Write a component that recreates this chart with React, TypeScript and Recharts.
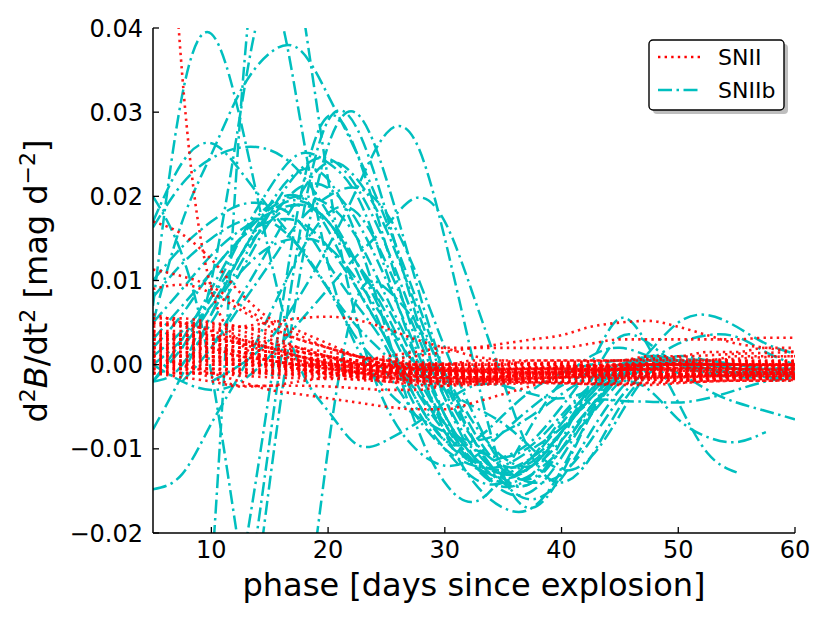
import React from 'react';
import { LineChart, Line, XAxis, YAxis } from 'recharts';

// phase grid [days since explosion]
const phase = [5, 7.5, 10, 12.5, 15, 17.5, 20, 22.5, 25, 27.5, 30, 32.5, 35, 37.5, 40, 42.5, 45, 47.5, 50, 52.5, 55, 57.5, 60];

// d2B/dt2 in units of 1e-3 mag d^-2 (SNIIb)
const b01 = [7, 32, 39.3, 29, 13, 0, -5.5, -9.5, -9, -7, -4.5, -2.5, -2.5, -3.5, -4, -3, -1.5, -0.5, 0, -0.5, -1, -1, -1];
const b02 = [-14.8, -13, -7, -1, 6, 13, 18, 18, 12, 4, -4, -10, -13, -12, -8, -3.5, -0.5, 0.5, 0.5, 0, -0.5, -1, -1];
const b03 = [-7.7, -1.2, 6, 13, 18, 19.5, 17, 12, 6, -1, -7, -11.5, -13.5, -12, -8, -4, -1, 0.5, 0, -1, -1.5, -1.5, -1.5];
const b04 = [16.3, 21.5, 24.5, 25.8, 25.5, 23, 18, 12, 5, -2, -8, -12, -13, -11, -7, -3, -0.5, 0.5, 0.5, 0, -0.5, -1, -1];
const b05 = [17, 24, 26.3, 23, 18.5, 14, 9, 4.5, 1, -3, -7, -10, -11, -9.5, -6, -2.5, -0.5, 0.5, 0, 0, -0.5, -0.5, -0.5];
const b06 = [5, 17, 25, 32.5, 37, 37.5, 32, 25, 17, 8, -1, -8, -12.5, -13.5, -10, -5, -1, 1, 0.5, 0, -0.5, -1, -1];
const b07 = [-90, -60, -25, 30, 56, 45, 22, 5, -5, -10, -12, -11, -8, -5, -2.5, -1, 0, 0.5, 0, -0.5, -1, -1, -1];
const b08 = [20, 13, -1, -23, -40, -35, -10, 8, 9, 5, -1, -7, -11, -12, -9, -5, -1.5, 0, 0, -0.5, -1, -1, -1.5];
const b09 = [-60, -50, -42, -25, -3, 19, 29.5, 25, 14, 3, -6, -12, -14.5, -13, -8, -3, 0, 0.5, 0, -0.5, -1, -1, -1];
const b10 = [-65, -58, -50, -33, -9, 15, 29, 28, 18, 6, -4, -11, -15, -15, -11, -5.5, -1.5, 0.5, 0.5, 0, -0.5, -1, -1];
const b11 = [-70, -65, -57, -40, -14, 10, 26, 29.8, 22, 10, -1, -9, -14, -16, -13.5, -8, -3, 0, 0.5, 0, -0.5, -1, -1];
const b12 = [-2, 0, 10, 30, 44, 30, 12, 2, -3, -6, -8, -9, -8, -6, -3.5, -1.5, -0.5, 0.5, 0, -0.5, -1, -1, -1];
const b13 = [null, null, 6, 12, 18, 23, 24.5, 21, 14, 5, -3, -9, -12, -11.5, -8, -4, -1, 0.5, 0, 0, -0.5, -1, -1];
const b14 = [null, null, -2, 0, 3, 8, 14, 21, 27.5, 26.5, 15, 0, -13, -17, -13, -6, -1, 1, 0.5, 0, -0.5, -1, -1];
const b15 = [0, -2, -3, -2, 1, 5, 9, 13, 16.5, 19.8, 17, 8, -2, -11, -14, -11, -5, -1, 0.5, 0.5, 0, -0.5, -1];
const b16 = [2, 6, 11, 15, 18.5, 20, 19, 15, 8, 1, -6, -11, -13, -12, -8, -3.5, -0.5, 1, 0.5, 0, -0.5, -0.5, -0.5];
const b17 = [null, -2, 2, 7, 12, 17, 20, 21, 18, 11, 2, -6, -12, -14, -13, -9, -4, -0.5, 1, 0.5, 0, -0.5, -1];
const b18 = [5, 9, 13, 16, 18, 19, 17, 11, 3, -4, -9, -9, -6, -3, -1, 0, 0.5, 0.5, 0, 0, -0.5, -0.5, -0.5];
const b19 = [-2, 2, 7, 13, 19, 23, 22, 15, 4, -7, -14, -16.3, -13, -7, -2, 1, 2, 1, 0, -0.5, -1, -1, -1];
const b20 = [-2, 3, 9, 15, 19, 20, 16, 9, 3, -4, -9, -11.5, -11, -9, -5, 0, 5.5, 2, -4.5, -10.5, -12.8, null, null];
const b21 = [3, 7, 11, 15, 17, 17, 14, 9, 3, -3, -8, -11.5, -12.5, -11, -8, -4, -2, -3, -6.5, -8.6, -9.2, -8, null];
const b22 = [null, null, 2, 8, 14, 20, 24, 22, 16, 7, -2, -9, -13.5, -14, -9, -2, 3.3, 2.5, 0, -1, -1, -1, -1];
const b23 = [1, 4, 8, 13, 17, 19, 17, 12, 7, 0, -7, -12, -14, -13, -10, -6, -2, 1.5, 5, 5.9, 4.5, 2.5, 1.3];
const b24 = [null, 0, 5, 11, 17, 21, 21, 17, 10, 2, -6, -11, -14, -14, -10, -5, -1.5, 0.5, 2.5, 3.5, 3.3, 1.5, 0];
const b25 = [8, 12, 15, 17, 17, 14, 9, 3, -1, -6, -10, -12, -12, -10, -7.5, -4.5, -4.3, -4.4, -4.5, -4, -3, -2, -1.5];
const b26 = [10, 14, 17, 19, 19, 17, 12, 7, 2, -5, -10, -13.5, -14, -11, -6.5, -2.5, 0, 0, -1, -3, -4.5, -5.5, -6.5];
const b27 = [null, 2, 8, 15, 21, 25, 24, 20, 11, 1, -8, -14, -17, -17, -12.5, -6, -1.5, 0.5, 0.5, 0, -0.5, -1, -1];
const b28 = [0, 3, 7, 11, 14, 15, 14, 10, 5, 0, -3, -5, -7, -10, -12.5, -11, -6, -1, 0, -0.5, -1, -1.5, -2];

// d2B/dt2 in units of 1e-3 mag d^-2 (SNII)
const r01 = [95, 34.5, 9, 2.5, 0.5, -0.5, -1, -1, -1, -1, -1, -1, -1, -1, -1, -1, -0.5, -0.5, -0.5, -0.5, -0.5, -0.5, -0.5];
const r02 = [17, 15.5, 12.5, 8.5, 5.5, 4, 2.5, 1, 0, -0.5, -1, -1, -1, -1, -1, -0.5, -0.5, -0.5, 0, 0, 0, 0, 0];
const r03 = [11.3, 10.5, 9.3, 7, 5, 3.5, 2, 1, 0, -0.5, -1, -1, -1, -1, -1, -0.5, -0.5, 0, 0, 0, 0, 0, 0];
const r04 = [9, 9.5, 8.5, 6.5, 4.5, 3, 2, 1, 0.5, 0, -0.5, -0.5, -0.5, -0.5, -0.5, -0.5, 0, 0, 0, 0, 0, 0, 0];
const r05 = [5, 5, 4.8, 4.5, 3.5, 2, 1, 0, -0.5, -1, -1, -1.5, -1.5, -1.5, -1, -1, -1, -0.5, -0.5, -0.5, -0.5, -0.5, -0.5];
const r06 = [3, 3.5, 4, 4.5, 5, 5.5, 5.7, 5.3, 4.3, 3, 2, 1, 0.5, 0, 0, 0, 0, 0, 0, 0, 0, 0, 0];
const r07 = [2, 2, 1.5, 1, 0.5, 0, 0, 0, 0.5, 1, 1.5, 2, 2.5, 3, 3.5, 4.5, 5, 5.2, 4.5, 3.5, 2.5, 2, 1.5];
const r08 = [3, 3, 2.5, 2, 1.5, 1, 0.5, 0.5, 1, 1.5, 2, 2, 2, 2, 2, 2.5, 3, 3, 3, 3, 3, 3.2, 3.2];
const r09 = [0, -0.5, -1.5, -2.5, -2.5, -2.5, -2.6, -2.8, -3, -3, -2.5, -2, -1.5, -1, -1, -0.5, -0.5, 0, 0, 0, 0, 0, 0];
const r10 = [1, 0, -1, -2, -3, -3.5, -4, -4.5, -5, -5.3, -5.3, -4.5, -3.5, -2.5, -1.5, -1, -0.5, 0, 0, 0, 0, 0, 0];
const r11 = [3.5, 3.5, 3, 2.5, 2, 1.5, 1, 0.5, 0, -0.4, -0.7, -0.9, -1.0, -1.0, -0.9, -0.8, -0.8, -0.9, -1.0, -1.1, -1.0, -0.9, -0.8];
const r12 = [2.5, 2.5, 2.5, 2, 1.5, 1, 0.5, 0, -0.5, -1.0, -1.4, -1.7, -1.8, -1.7, -1.5, -1.3, -1.2, -1.2, -1.3, -1.3, -1.2, -1.1, -1.0];
const r13 = [0.5, 0.5, 0.5, 0.5, 0, -0.2, -0.5, -0.7, -0.9, -1.1, -1.2, -1.3, -1.3, -1.2, -1.1, -1.0, -1.0, -1.1, -1.2, -1.3, -1.3, -1.2, -1.2];
const r14 = [-0.5, -0.5, -0.5, -0.6, -0.8, -1.0, -1.2, -1.4, -1.6, -1.8, -1.9, -1.9, -1.8, -1.7, -1.6, -1.6, -1.5, -1.4, -1.3, -1.3, -1.4, -1.5, -1.5];
const r15 = [-1, -1, -1, -1, -1.1, -1.3, -1.5, -1.8, -2.0, -2.2, -2.3, -2.3, -2.2, -2.1, -2.0, -2.0, -1.9, -1.8, -1.8, -1.8, -1.7, -1.7, -1.6];
const r16 = [4.5, 4.8, 4.5, 4, 3, 2, 1, 0.2, -0.3, -0.6, -0.7, -0.7, -0.6, -0.5, -0.5, -0.6, -0.6, -0.5, -0.4, -0.4, -0.5, -0.6, -0.6];
const r17 = [3, 3, 2.5, 1.5, 0.5, 0, -0.5, -0.9, -1.2, -1.4, -1.5, -1.5, -1.4, -1.3, -1.2, -1.2, -1.3, -1.4, -1.4, -1.3, -1.2, -1.1, -1.1];
const r18 = [1.5, 1.5, 1, 0.5, 0, -0.3, -0.4, -0.5, -0.6, -0.8, -0.9, -0.9, -0.8, -0.6, -0.5, -0.4, -0.4, -0.5, -0.7, -0.9, -1.0, -1.0, -0.9];
const r19 = [0, 0, 0, 0, 0, -0.1, -0.2, -0.2, -0.2, -0.3, -0.4, -0.5, -0.5, -0.4, -0.3, -0.2, -0.1, 0, 0.1, 0.1, 0, -0.1, -0.1];
const r20 = [2, 2, 2, 1.5, 1, 0.5, 0.1, -0.1, -0.3, -0.5, -0.7, -0.9, -1.0, -1.0, -0.9, -0.7, -0.4, -0.1, 0.2, 0.4, 0.4, 0.3, 0.3];
const r21 = [-1, -1.5, -2, -2.6, -2.5, -2, -1.5, -1, -1, -1, -1, -1.5, -1.5, -1.5, -1.5, -1, -1, -1, -1, -1, -1, -1, -1];
const r22 = [5.5, 5.5, 5, 4.5, 4, 3, 2, 1, 0.5, 0, 0, 0, 0, 0.5, 0.5, 0.5, 0.5, 0.5, 0.5, 0.5, 1, 1, 1];
const r23 = [1, 1, 0.5, 0, -0.3, -0.7, -1.1, -1.5, -1.8, -2.0, -2.1, -2.1, -2.0, -2.0, -2.1, -2.2, -2.2, -2.1, -1.9, -1.7, -1.6, -1.6, -1.6];
const r24 = [3.5, 3, 2, 1, 0.5, 0, 0, 0, 0, 0, 0, 0.5, 0.5, 0.5, 0.5, 0.5, 0.5, 1, 1, 1.5, 1.5, 2, 2];
const r25 = [-0.5, 0, 0.5, 0.5, 0, -0.5, -1, -1.3, -1.5, -1.4, -1.2, -1.0, -0.8, -0.7, -0.7, -0.8, -0.9, -0.9, -0.8, -0.7, -0.7, -0.8, -0.8];
const r26 = [4, 4, 3.5, 3, 2, 1, 0.2, -0.4, -0.9, -1.3, -1.6, -1.7, -1.7, -1.6, -1.5, -1.5, -1.6, -1.6, -1.5, -1.4, -1.3, -1.3, -1.3];
const r27 = [2, 1.5, 1, 0.5, 0, -0.5, -1, -1.5, -2, -2.4, -2.5, -2.4, -2.3, -2.2, -2.2, -2.3, -2.3, -2.2, -2.1, -2.0, -1.9, -1.9, -1.8];
const r28 = [0, 0.5, 1, 1, 0.5, 0.1, -0.1, -0.3, -0.4, -0.4, -0.3, -0.2, -0.2, -0.3, -0.4, -0.4, -0.3, -0.2, 0, 0.1, 0.2, 0.2, 0.2];
const r29 = [-1, -0.5, 0, 0, -0.1, -0.5, -0.9, -1.2, -1.5, -1.7, -1.8, -1.8, -1.7, -1.5, -1.4, -1.4, -1.5, -1.6, -1.6, -1.5, -1.4, -1.3, -1.2];
const r30 = [3, 2.5, 2, 1.5, 1, 0.6, 0.3, 0.1, 0, 0, 0.1, 0.2, 0.2, 0.2, 0.3, 0.4, 0.5, 0.6, 0.6, 0.6, 0.5, 0.5, 0.5];
const r31 = [1.5, 2, 2, 1.5, 1, 0.5, 0, -0.4, -0.7, -0.9, -1.0, -1.0, -0.8, -0.6, -0.5, -0.5, -0.6, -0.7, -0.7, -0.6, -0.5, -0.5, -0.5];
const r32 = [5, 4.5, 3.5, 2.5, 1.5, 0.5, -0.4, -1.0, -1.5, -1.9, -2.1, -2.1, -2.0, -1.8, -1.6, -1.4, -1.2, -1.1, -1.1, -1.2, -1.3, -1.3, -1.3];
const r33 = [0.5, 0, -0.5, -0.8, -1.0, -1.1, -1.1, -1.0, -1.0, -1.1, -1.2, -1.2, -1.1, -1.0, -0.9, -0.9, -1.0, -1.1, -1.2, -1.2, -1.1, -1.0, -1.0];
const r34 = [2.5, 2, 1.5, 1, 0.5, 0, -0.4, -0.7, -0.8, -0.7, -0.5, -0.3, -0.1, 0, 0, -0.1, -0.2, -0.2, -0.1, 0, 0, 0, 0];
const r35 = [-0.5, -1, -1, -1.3, -1.5, -1.6, -1.7, -1.7, -1.6, -1.6, -1.7, -1.8, -1.9, -1.9, -1.8, -1.7, -1.7, -1.8, -1.9, -1.9, -1.8, -1.7, -1.7];
const r36 = [4, 3.5, 3, 2.5, 2, 1.5, 1, 0.5, 0.2, 0, 0, 0, 0.1, 0.1, 0, -0.1, -0.1, 0, 0.2, 0.5, 0.7, 0.9, 1.0];
const r37 = [1, 1, 1, 0.5, 0.5, 0.2, 0, -0.1, -0.3, -0.6, -1.0, -1.3, -1.4, -1.3, -1.1, -0.9, -0.7, -0.5, -0.4, -0.3, -0.3, -0.3, -0.3];
const r38 = [3, 3, 3, 2.5, 2, 1, 0, -0.9, -1.5, -1.9, -2.0, -2.0, -2.0, -2.1, -2.2, -2.3, -2.4, -2.4, -2.2, -2.0, -1.9, -1.9, -1.9];
const r39 = [0, -0.5, -0.5, -0.5, -0.6, -0.8, -0.9, -0.8, -0.6, -0.5, -0.6, -0.8, -1.0, -1.1, -1.0, -0.8, -0.6, -0.5, -0.5, -0.6, -0.6, -0.5, -0.4];
const r40 = [2, 2.5, 2.5, 2, 1.5, 1, 0.5, 0.1, -0.1, -0.1, -0.2, -0.3, -0.5, -0.6, -0.5, -0.3, -0.1, 0.1, 0.2, 0.3, 0.4, 0.4, 0.4];
const r41 = [6, 5, 4, 3, 2, 1, 0.2, -0.4, -0.8, -1.0, -1.1, -1.1, -1.0, -0.8, -0.6, -0.5, -0.5, -0.6, -0.7, -0.7, -0.6, -0.6, -0.6];
const r42 = [-1, -1, -1, -1, -0.7, -0.6, -0.6, -0.7, -0.8, -1.0, -1.2, -1.5, -1.8, -2.0, -2.0, -1.9, -1.7, -1.5, -1.3, -1.2, -1.2, -1.2, -1.2];
const r43 = [1, 1.5, 1.5, 1, 0.5, 0, -0.5, -0.9, -1.1, -1.1, -1.0, -0.8, -0.7, -0.8, -1.0, -1.2, -1.3, -1.4, -1.5, -1.5, -1.4, -1.4, -1.4];
const r44 = [3.5, 3.5, 3.5, 3, 2.5, 2, 1.5, 1, 0.6, 0.3, 0.1, 0, 0, 0.1, 0.2, 0.3, 0.5, 0.7, 0.9, 1.1, 1.3, 1.4, 1.5];
const r45 = [0.5, 1, 1.5, 1.5, 1, 0.5, 0, -0.5, -1.0, -1.4, -1.6, -1.5, -1.3, -1.1, -1.0, -1.0, -1.1, -1.2, -1.2, -1.1, -1.0, -1.0, -1.0];
const r46 = [2, 2, 1.8, 1.4, 0.9, 0.4, 0, -0.3, -0.6, -0.9, -1.2, -1.4, -1.6, -1.6, -1.5, -1.3, -1.1, -0.9, -0.8, -0.8, -0.9, -1.0, -1.1];
const r47 = [4.8, 4.6, 4.2, 3.5, 2.6, 1.6, 0.8, 0.2, -0.2, -0.5, -0.7, -0.8, -0.9, -0.9, -0.8, -0.7, -0.6, -0.6, -0.7, -0.8, -0.9, -0.9, -0.9];
const r48 = [0.2, 0.3, 0.3, 0.1, -0.2, -0.5, -0.8, -1.1, -1.3, -1.5, -1.6, -1.6, -1.5, -1.4, -1.3, -1.3, -1.4, -1.5, -1.6, -1.6, -1.5, -1.4, -1.3];
const r49 = [1.2, 1.1, 0.9, 0.6, 0.3, 0, -0.3, -0.5, -0.7, -0.8, -0.8, -0.7, -0.5, -0.3, -0.2, -0.2, -0.3, -0.4, -0.4, -0.3, -0.2, -0.1, 0];
const r50 = [3.8, 3.6, 3.2, 2.7, 2.1, 1.5, 0.9, 0.4, 0, -0.3, -0.5, -0.6, -0.6, -0.5, -0.3, -0.1, 0.1, 0.2, 0.2, 0.1, 0, -0.1, -0.2];

const snIIbCurves = [b01, b02, b03, b04, b05, b06, b07, b08, b09, b10, b11, b12, b13, b14, b15, b16, b17, b18, b19, b20, b21, b22, b23, b24, b25, b26, b27, b28];
const snIICurves = [r01, r02, r03, r04, r05, r06, r07, r08, r09, r10, r11, r12, r13, r14, r15, r16, r17, r18, r19, r20, r21, r22, r23, r24, r25, r26, r27, r28, r29, r30, r31, r32, r33, r34, r35, r36, r37, r38, r39, r40, r41, r42, r43, r44, r45, r46, r47, r48, r49, r50];

const xTicks = [10, 20, 30, 40, 50, 60];
const yTicks = [-20, -10, 0, 10, 20, 30, 40];
const legendLabels = ['SNII', 'SNIIb'];

const FONT = '"DejaVu Sans", sans-serif';
const CYAN = '#00bfbf';
const RED = '#ff0000';
const CYAN_DASH = '14 4.5 2.5 4.5';
const RED_DASH = '2.4 4.2';

const data = phase.map((p, i) => {
  const row: Record<string, number | null> = { phase: p };
  snIIbCurves.forEach((c, j) => { row['b' + j] = c[i]; });
  snIICurves.forEach((c, j) => { row['r' + j] = c[i]; });
  return row;
});

const fmtY = (v: number) => (v / 1000).toFixed(2).replace('-', '\u2212');

const XTick = (props: any) => {
  const { x, y, payload } = props;
  return (
    <g>
      <line x1={x} x2={x} y1={y} y2={y - 6} stroke="#000" strokeWidth={1.3} />
      <text x={x} y={y + 25} textAnchor="middle" fontSize={24} fontFamily={FONT} fill="#000">
        {payload.value}
      </text>
    </g>
  );
};

const YTick = (props: any) => {
  const { x, y, payload } = props;
  return (
    <g>
      <line x1={x} x2={x + 6} y1={y} y2={y} stroke="#000" strokeWidth={1.3} />
      <text x={x - 10} y={y + 8.5} textAnchor="end" fontSize={24} fontFamily={FONT} fill="#000">
        {fmtY(payload.value)}
      </text>
    </g>
  );
};

const XLabel = () => (
  <text x={474} y={596} textAnchor="middle" fontSize={32} fontFamily={FONT} fill="#000">
    phase [days since explosion]
  </text>
);

const YLabel = () => (
  <text transform="translate(47,281) rotate(-90)" textAnchor="middle" fontSize={32} fontFamily={FONT} fill="#000">
    d<tspan dy={-12} fontSize={22}>2</tspan>
    <tspan dy={12} fontStyle="italic">B</tspan>/dt<tspan dy={-12} fontSize={22}>2</tspan>
    <tspan dy={12}> [mag d</tspan><tspan dy={-12} fontSize={22}>{'\u2212'}2</tspan>
    <tspan dy={12}>]</tspan>
  </text>
);

const LegendBox = () => (
  <svg width={830} height={623} style={{ position: 'absolute', left: 0, top: 0, pointerEvents: 'none' }}>
    <rect x={653} y={44} width={135} height={70} rx={4} fill="#888" opacity={0.55} />
    <rect x={649} y={40} width={135} height={70} rx={4} fill="#fff" stroke="#000" strokeWidth={1.4} />
    <line x1={658} x2={702} y1={57} y2={57} stroke={RED} strokeWidth={2.4} strokeDasharray={RED_DASH} />
    <text x={718} y={65} fontSize={22} fontFamily={FONT} fill="#000">{legendLabels[0]}</text>
    <line x1={658} x2={702} y1={90} y2={90} stroke={CYAN} strokeWidth={2.5} strokeDasharray={CYAN_DASH} />
    <text x={718} y={98} fontSize={22} fontFamily={FONT} fill="#000">{legendLabels[1]}</text>
  </svg>
);

export default function App() {
  return (
    <div style={{ position: 'absolute', left: 0, top: 0, width: 830, height: 623, background: '#fff' }}>
      <LineChart width={830} height={623} data={data} margin={{ top: 28, right: 35, bottom: 0, left: 0 }}>
        <XAxis
          dataKey="phase"
          type="number"
          domain={[5, 60]}
          ticks={xTicks}
          allowDataOverflow
          interval={0}
          height={90}
          tickSize={0}
          tickMargin={0}
          tickLine={false}
          tick={<XTick />}
          axisLine={{ stroke: '#000', strokeWidth: 1.5 }}
          label={<XLabel />}
        />
        <XAxis
          xAxisId="top"
          orientation="top"
          dataKey="phase"
          type="number"
          domain={[5, 60]}
          allowDataOverflow
          height={0}
          tick={false}
          tickLine={false}
          axisLine={{ stroke: '#000', strokeWidth: 1.5 }}
        />
        <YAxis
          type="number"
          domain={[-20, 40]}
          ticks={yTicks}
          allowDataOverflow
          interval={0}
          width={153}
          tickSize={0}
          tickMargin={0}
          tickLine={false}
          tick={<YTick />}
          axisLine={{ stroke: '#000', strokeWidth: 1.5 }}
          label={<YLabel />}
        />
        <YAxis
          yAxisId="right"
          orientation="right"
          type="number"
          domain={[-20, 40]}
          allowDataOverflow
          width={0}
          tick={false}
          tickLine={false}
          axisLine={{ stroke: '#000', strokeWidth: 1.5 }}
        />
        {snIIbCurves.map((_, j) => (
          <Line
            key={'b' + j}
            dataKey={'b' + j}
            type="natural"
            stroke={CYAN}
            strokeWidth={2.5}
            strokeDasharray={CYAN_DASH}
            dot={false}
            activeDot={false}
            isAnimationActive={false}
          />
        ))}
        {snIICurves.map((_, j) => (
          <Line
            key={'r' + j}
            dataKey={'r' + j}
            type="monotone"
            stroke={RED}
            strokeOpacity={0.9}
            strokeWidth={2.6}
            strokeDasharray={RED_DASH}
            dot={false}
            activeDot={false}
            isAnimationActive={false}
          />
        ))}
      </LineChart>
      <LegendBox />
    </div>
  );
}
